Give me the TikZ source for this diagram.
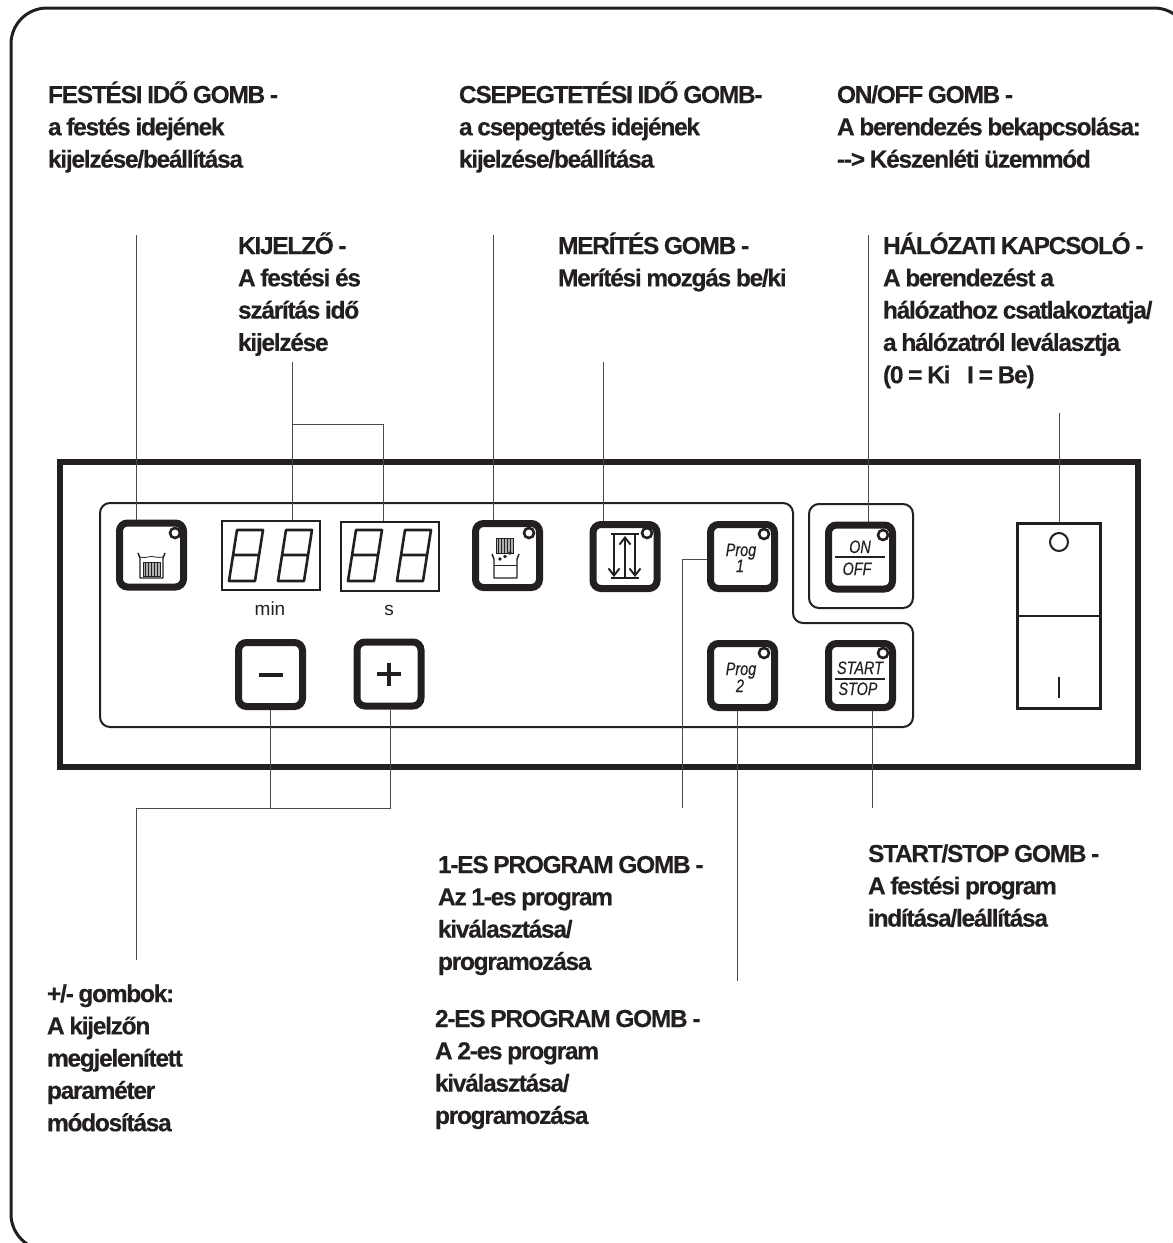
\documentclass[tikz,border=0pt]{standalone}
\usepackage{fontspec}
\usetikzlibrary{arrows.meta}
\setmainfont{Liberation Sans}
\newfontfamily\lblfont[LetterSpace=-5.2,WordSpace=0.85,BoldFeatures={FakeBold=0.35}]{Liberation Sans}
\newfontfamily\btnfont[FakeStretch=0.8,ItalicFeatures={FakeBold=0.2}]{Liberation Sans}
\definecolor{ink}{HTML}{231F20}
\definecolor{wire}{HTML}{4A4A4A}
\newcommand{\fl}{\rule{0pt}{26pt}}
\newcommand{\sevenseg}[1]{\draw[seg,shift={(#1,0)}] (229,581)--(255,581)--(263,530)--(237,530)--cycle (233,555)--(259,555);}
\newcommand{\rackhatch}[4]{%
  \fill[ink!35] (#1,#3) rectangle (#2,#4);
  \draw[ink,line width=1pt] (#1,#3) rectangle (#2,#4);
  \foreach \hx in {1,...,5}{\draw[ink,line width=1pt] ({#1+(#2-#1)*\hx/6},#3) -- ({#1+(#2-#1)*\hx/6},#4);}
}
\tikzset{
  lbl/.style={inner sep=0pt,outer sep=0pt,anchor=north west,align=left,text=ink,
    font=\lblfont\bfseries\fontsize{24.5}{32.3}\selectfont},
  btn/.style={draw=ink,line width=7pt,rounded corners=8pt,minimum width=64pt,minimum height=64pt,inner sep=0pt,fill=white},
  led/.style={draw=ink,fill=white,line width=2.6pt,circle,minimum size=10pt,inner sep=0pt},
  disp/.style={draw=ink,line width=2pt,minimum width=98pt,minimum height=69pt,inner sep=0pt},
  seg/.style={draw=ink,line width=2.6pt,line join=round},
  conn/.style={draw=wire,line width=0.9pt},
  panel/.style={draw=ink,line width=2pt,rounded corners=10pt},
  btxt/.style={inner sep=0pt,text=ink,anchor=base,font=\btnfont\itshape\fontsize{18}{18}\selectfont},
  unit/.style={inner sep=0pt,text=ink,anchor=base,font=\fontsize{19}{19}\selectfont},
  icon/.style={draw=ink,line width=1.4pt,line join=round},
  updown/.style={draw=ink,line width=1.9pt,-{Straight Barb[length=7pt,width=11pt]}},
}
\begin{document}
\begin{tikzpicture}[x=1pt,y=-1pt]
\useasboundingbox (0,0) rectangle (1173,1243);
\begin{scope}
\clip (0,0) rectangle (1173,1243);
\draw[ink,line width=3pt,rounded corners=36pt] (11,8) rectangle (1190,1250);
\end{scope}
% main panel
\draw[ink,line width=6pt] (60,462) rectangle (1138,767);
\draw[panel] (100,503) -- (793,503) -- (793,623) -- (913,623) -- (913,727) -- (100,727) -- cycle;
\node[panel,minimum width=104pt,minimum height=104pt,inner sep=0pt] (onpanel) at (861,556) {};
% buttons
\node[btn] (b1) at (151.5,555) {};
\node[btn] (bminus) at (270.5,674.5) {};
\node[btn] (bplus) at (389,674) {};
\node[btn] (b3) at (507.5,555.5) {};
\node[btn] (b4) at (625,556.5) {};
\node[btn] (p1) at (742.5,556.5) {};
\node[btn] (p2) at (742.5,675.5) {};
\node[btn] (on) at (860.5,557) {};
\node[btn] (st) at (860.5,675.5) {};
\node[led] (l1) at (175,533) {};
\node[led] (l3) at (529,533) {};
\node[led] (l4) at (647,533) {};
\node[led] (l5) at (764,534) {};
\node[led] (l6) at (764,653) {};
\node[led] (l7) at (883,535) {};
\node[led] (l8) at (883,653) {};
% displays
\node[disp] (d1) at (271,555.5) {};
\node[disp] (d2) at (389.5,556) {};
\sevenseg{0}\sevenseg{49}\sevenseg{119}\sevenseg{168}
\node[unit] (umin) at (270,615) {min};
\node[unit] (us) at (389,615) {s};
% plus / minus
\draw[ink,line width=3.6pt] (259,675) -- (283,675);
\draw[ink,line width=3.6pt] (377,674) -- (401,674) (389,663) -- (389,686);
% icon 1
\draw[icon] (138,553) -- (140,558) -- (140,578) -- (163,578) -- (163,558) -- (165,553);
\draw[icon,line width=0.8pt] (140,557) .. controls (146,559) and (150,555) .. (155,557) .. controls (158,558) and (160,557) .. (163,557);
\rackhatch{143}{160}{562}{576}
% icon 3
\rackhatch{496}{513}{538}{553}
\draw[icon] (492,554) -- (494,559) -- (494,578) -- (517,578) -- (517,559) -- (519,554);
\draw[icon,line width=0.8pt] (494,565) -- (517,565);
\fill[ink] (500,559) circle (1.9) (505,556.5) circle (1.9) (510,553) circle (1.9);
% icon 4
\draw[ink,line width=2.6pt] (611,534) -- (639,534) (611,578) -- (639,578);
\draw[updown] (614,534) -- (614,577);
\draw[updown] (625,578) -- (625,536);
\draw[updown] (635,534) -- (635,577);
% button texts
\node[btxt] (tp1a) at (741,556) {Prog};
\node[btxt] (tp1b) at (740,572) {1};
\node[btxt] (tp2a) at (741,675) {Prog};
\node[btxt] (tp2b) at (740,692) {2};
\node[btxt] (ton) at (860,553) {ON};
\draw[ink,line width=1.5pt] (835,557) -- (885,557);
\node[btxt] (toff) at (857,575) {OFF};
\node[btxt] (tstart) at (860,674) {START};
\draw[ink,line width=1.5pt] (835,679) -- (885,679);
\node[btxt] (tstop) at (858,695) {STOP};
% switch
\node[draw=ink,line width=3pt,minimum width=83pt,minimum height=185pt,inner sep=0pt] (sw) at (1058.5,615.5) {};
\draw[ink,line width=2pt] (sw.west |- 0,616) -- (sw.east |- 0,616);
\node[draw=ink,line width=2pt,circle,minimum size=18pt,inner sep=0pt] (swc) at (1059,542) {};
\draw[ink,line width=2.2pt] (1059,677) -- (1059,698);
% connector free ends
\coordinate (c1) at (136,235);
\coordinate (c2) at (292,362);
\coordinate (c2j) at (292,424);
\coordinate (c2k) at (383,424);
\coordinate (c3) at (493,235);
\coordinate (c4) at (603,362);
\coordinate (c5) at (868,235);
\coordinate (c6) at (1059,413);
\coordinate (c7) at (682,808);
\coordinate (c7j) at (682,559);
\coordinate (c8) at (737,981);
\coordinate (c9) at (872,808);
\coordinate (cm) at (270,808);
\coordinate (cp) at (390,808);
\coordinate (cl) at (136,808);
\coordinate (cb) at (136,960);
\draw[conn] (c1) -- (c1 |- b1.north);
\draw[conn] (c2) -- (c2 |- d1.north);
\draw[conn] (c2j) -- (c2k) -- (c2k |- d2.north);
\draw[conn] (c3) -- (c3 |- b3.north);
\draw[conn] (c4) -- (c4 |- b4.north);
\draw[conn] (c5) -- (c5 |- on.north);
\draw[conn] (c6) -- (c6 |- sw.north);
\draw[conn] (p1.west |- c7j) -- (c7j) -- (c7);
\draw[conn] (c8) -- (c8 |- p2.south);
\draw[conn] (c9) -- (c9 |- st.south);
\draw[conn] (cm |- bminus.south) -- (cm);
\draw[conn] (cp |- bplus.south) -- (cp) -- (cl) -- (cb);
% labels (top-left placed so that first baseline = y+26)
\node[lbl] (t1) at (48,77) {\fl FESTÉSI IDŐ GOMB -\\a festés idejének\\kijelzése/beállítása};
\node[lbl] (t2) at (459,77) {\fl CSEPEGTETÉSI IDŐ GOMB-\\a csepegtetés idejének\\kijelzése/beállítása};
\node[lbl] (t3) at (837,77) {\fl ON/OFF GOMB -\\A berendezés bekapcsolása:\\-{}-> Készenléti üzemmód};
\node[lbl] (t4) at (238,228) {\fl KIJELZŐ -\\A festési és\\szárítás idő\\kijelzése};
\node[lbl] (t5) at (558,228) {\fl MERÍTÉS GOMB -\\Merítési mozgás be/ki};
\node[lbl] (t6) at (883,228) {\fl HÁLÓZATI KAPCSOLÓ -\\A berendezést a\\hálózathoz csatlakoztatja/\\a hálózatról leválasztja\\(0 = Ki\hspace{12pt} I = Be)};
\node[lbl] (t7) at (868,836) {\fl START/STOP GOMB -\\A festési program\\indítása/leállítása};
\node[lbl] (t8) at (438,847) {\fl 1-ES PROGRAM GOMB -\\Az 1-es program\\kiválasztása/\\programozása};
\node[lbl] (t9) at (435,1001) {\fl 2-ES PROGRAM GOMB -\\A 2-es program\\kiválasztása/\\programozása};
\node[lbl] (t10) at (47,976) {\fl +/- gombok:\\A kijelzőn\\megjelenített\\paraméter\\módosítása};
\end{tikzpicture}
\end{document}
